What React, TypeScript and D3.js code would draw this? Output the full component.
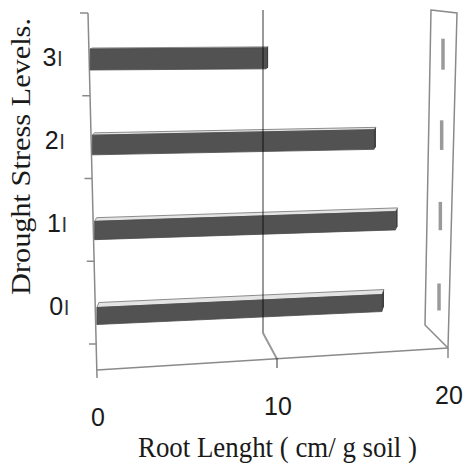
import React from "react";
import * as d3 from "d3";

const levels = ["0", "1", "2", "3"];
const rootLength = [16.2, 17.1, 16.0, 10.0];
const valueTicks = [0, 10, 20];
const gridValues = [10];
const xTitle = "Root Lenght ( cm/ g soil )";
const yTitle = "Drought Stress Levels.";

export default function App() {
  const W = 465, H = 467;
  const nCat = levels.length;
  const vMax = 20;

  // category axis (left)
  const axisX = d3.scaleLinear().domain([0, nCat]).range([97, 88]);
  const axisY = d3.scaleLinear().domain([0, nCat]).range([344, 13]);
  // bar plane
  const barY = d3.scaleLinear().domain([0.5, 3.5]).range([316, 59.5]);
  const barLen = d3.scaleLinear().domain([0, vMax]).range([0, 352]);
  const slope = d3.scaleLinear().domain([0, nCat]).range([0.052, 0]);
  const thick = d3.scaleLinear().domain([0.5, 3.5]).range([17, 21]);
  const depthUp = d3.scaleLinear().domain([0.5, 3.5]).range([5, 1]);
  // front floor edge
  const xFront = d3.scaleLinear().domain([0, 10, 20]).range([97, 277, 448]);
  const yFront = d3.scaleLinear().domain([0, vMax]).range([370, 348]);
  // back wall
  const xBack = d3.scaleLinear().domain([0, 10, 20]).range([101, 263, 425]);
  const yBackBottom = d3.scaleLinear().domain([0, vMax]).range([341, 325]);
  const backTop = 10;
  const dashX = d3.scaleLinear().domain([54, 298]).range([443, 439]);

  const bars = rootLength.map((v, i) => {
    const c = i + 0.5;
    const x0 = axisX(c) + 1;
    const x1 = x0 + barLen(v);
    const yc0 = barY(c);
    const s = slope(c);
    const t = thick(c);
    const d = depthUp(c);
    const yAt = (x: number) => yc0 - s * (x - x0);
    const tl = yAt(x0) - t / 2, bl = yAt(x0) + t / 2;
    const tr = yAt(x1) - t / 2, br = yAt(x1) + t / 2;
    const front = d3.line()([[x0, tl], [x1, tr], [x1, br], [x0, bl]]) + "Z";
    const top = d3.line()([[x0, tl], [x1, tr], [x1 + 2, tr - d], [x0 + 2, tl - d]]) + "Z";
    const side = d3.line()([[x1, tr], [x1 + 2, tr - d], [x1 + 2, br - d], [x1, br]]) + "Z";
    const xr = x0 + barLen(vMax);
    const dTop = yAt(xr) - t / 2 - 8;
    const dBot = yAt(xr) + t / 2 + 2;
    const dx = dashX((dTop + dBot) / 2);
    return { front, top, side, dTop, dBot, dx, key: levels[i] };
  });

  const wallPath =
    d3.line()([
      [431, backTop],
      [457, 13],
      [xFront(vMax), yFront(vMax)],
      [xBack(vMax), yBackBottom(vMax)],
    ]) + "Z";

  const serif = "'Liberation Serif', 'Times New Roman', serif";
  const sans = "'Liberation Sans', Arial, sans-serif";

  return (
    <svg
      width={W}
      height={H}
      style={{ position: "absolute", left: 0, top: 0, background: "#fff" }}
    >
      <rect x={0} y={0} width={W} height={H} fill="#fff" />
      {/* right wall */}
      <path d={wallPath} fill="none" stroke="#8a8a8a" strokeWidth={1.5} />
      {bars.map((b) => (
        <line
          key={"d" + b.key}
          x1={b.dx}
          x2={b.dx}
          y1={b.dTop}
          y2={b.dBot}
          stroke="#9a9a9a"
          strokeWidth={3.5}
        />
      ))}
      {/* floor front edge */}
      <line
        x1={xFront(0)}
        y1={yFront(0)}
        x2={xFront(vMax)}
        y2={yFront(vMax)}
        stroke="#8a8a8a"
        strokeWidth={1.5}
      />
      <line
        x1={xFront(vMax)}
        y1={yFront(vMax)}
        x2={xFront(vMax)}
        y2={yFront(vMax) + 10}
        stroke="#8a8a8a"
        strokeWidth={1.5}
      />
      {/* left category axis */}
      <line
        x1={axisX(nCat)}
        y1={axisY(nCat)}
        x2={xFront(0)}
        y2={yFront(0) + 8}
        stroke="#8a8a8a"
        strokeWidth={1.5}
      />
      {d3.range(nCat + 1).map((k) => (
        <line
          key={"t" + k}
          x1={axisX(k) - 8}
          x2={axisX(k)}
          y1={axisY(k)}
          y2={axisY(k)}
          stroke="#8a8a8a"
          strokeWidth={1.5}
        />
      ))}
      {/* bars */}
      {bars.map((b) => (
        <g key={"b" + b.key}>
          <path d={b.top} fill="#e4e4e4" stroke="#8c8c8c" strokeWidth={1} />
          <path d={b.side} fill="#3e3e3e" />
          <path d={b.front} fill="#525252" stroke="#4a4a4a" strokeWidth={0.8} />
        </g>
      ))}
      {/* gridlines */}
      {gridValues.map((v) => (
        <path
          key={"g" + v}
          d={
            d3.line()([
              [xBack(v), backTop],
              [xBack(v), yBackBottom(v)],
              [xFront(v), yFront(v)],
              [xFront(v), yFront(v) + 9],
            ]) || ""
          }
          fill="none"
          stroke="#000"
          strokeOpacity={0.4}
          strokeWidth={2}
        />
      ))}
      {/* category labels */}
      {levels.map((lab, i) => {
        const c = i + 0.5;
        return (
          <text
            key={"l" + lab}
            x={axisX(c) - 27}
            y={axisY(c) + 3 + 9}
            textAnchor="end"
            fontFamily={sans}
            fontSize={25}
            fill="#1a1a1a"
          >
            {lab}
            <tspan dx={1} fontSize={21} fill="#333">
              l
            </tspan>
          </text>
        );
      })}
      {/* value labels */}
      {valueTicks.map((v) => (
        <text
          key={"v" + v}
          x={xFront(v) + 1}
          y={yFront(v) + 47 + 9}
          textAnchor="middle"
          fontFamily={sans}
          fontSize={25}
          fill="#1a1a1a"
        >
          {v}
        </text>
      ))}
      {/* titles */}
      <text
        x={277.5}
        y={457}
        textAnchor="middle"
        fontFamily={serif}
        fontSize={30}
        textLength={279}
        lengthAdjust="spacingAndGlyphs"
        fill="#1a1a1a"
      >
        {xTitle}
      </text>
      <text
        transform="translate(30,156.5) rotate(-90)"
        textAnchor="middle"
        fontFamily={serif}
        fontSize={28}
        textLength={277}
        lengthAdjust="spacingAndGlyphs"
        fill="#1a1a1a"
      >
        {yTitle}
      </text>
    </svg>
  );
}
